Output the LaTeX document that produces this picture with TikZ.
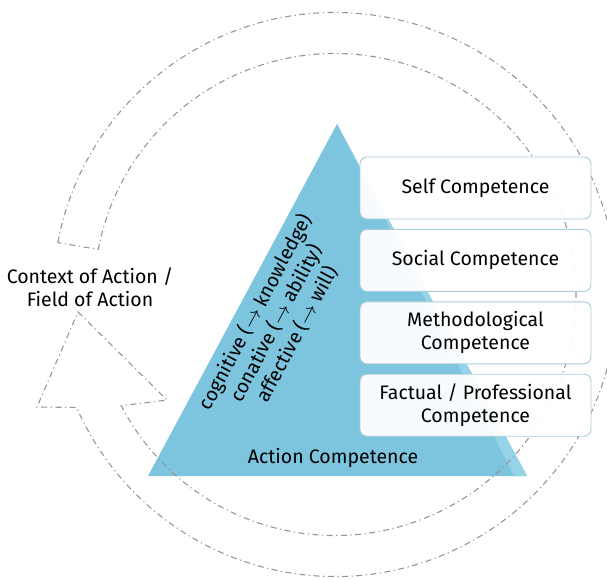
\documentclass[tikz,border=0pt]{standalone}
\usepackage{fontspec}
\setmainfont{Fira Sans}
\usetikzlibrary{positioning}

\definecolor{pyramidblue}{RGB}{125,196,222}
\definecolor{pyramidlight}{RGB}{150,210,232}
\definecolor{boxedge}{RGB}{170,205,218}
\definecolor{loopgray}{RGB}{150,150,150}

\begin{document}
\begin{tikzpicture}[
	x=1pt, y=1pt,
	pyramid/.style={fill=pyramidblue},
	loopline/.style={draw=loopgray, line width=1.1pt, dash pattern=on 6pt off 3.5pt on 1.2pt off 3.5pt},
	compbox/.style={draw=boxedge, line width=0.9pt, fill=white, fill opacity=0.95, text opacity=1, rounded corners=7pt,
		minimum width=231pt, minimum height=62pt, align=center, font=\fontsize{19.5}{23}\selectfont},
	txt/.style={align=center, font=\fontsize{19.5}{23.5}\selectfont}
	]
	\clip (0,0) rectangle (607,579);
	
	% --- PYRAMID ---
	\coordinate (apex) at (337,455);
	\coordinate (bl) at (148,103);
	\coordinate (br) at (527,103);
	\fill[pyramid] (bl) -- (apex) -- (br) -- cycle;
	\fill[pyramidlight] (apex) -- (br) -- (514,103) -- cycle;
	
	% --- CIRCULAR ARROW ---
	\coordinate (c) at (335,284.5);
	\coordinate (headl) at (37,172);
	\coordinate (tip) at (78,267);
	\coordinate (headr) at (167,179);
	\draw[loopline] ([shift={(169.4:282)}]c) arc[start angle=169.4, end angle=-156.4, radius=282]
		-- (headl) -- (tip) -- (headr)
		-- ([shift={(-152.5:241)}]c) arc[start angle=-152.5, end angle=169.2, radius=241] -- cycle;
	
	% --- TEXT IN THE PYRAMID ---
	\node[txt, rotate=62] (kinds) at (276,256) {cognitive ($\rightarrow$ knowledge)\\conative ($\rightarrow$ ability)\\affective ($\rightarrow$ will)};
	\node[txt, anchor=base] (action) at (333,116) {Action Competence};
	
	% --- COMPETENCES ---
	\node[compbox] (self) at (475.5,391) {Self Competence};
	\node[compbox, below=9.5pt of self] (social) {Social Competence};
	\node[compbox, below=9.5pt of social] (method) {Methodological\\Competence};
	\node[compbox, below=9.5pt of method] (factual) {Factual / Professional\\Competence};
	
	% --- CONTEXT ---
	\node[txt] (context) at (90,292) {Context of Action /\\Field of Action};
	
\end{tikzpicture}
\end{document}
